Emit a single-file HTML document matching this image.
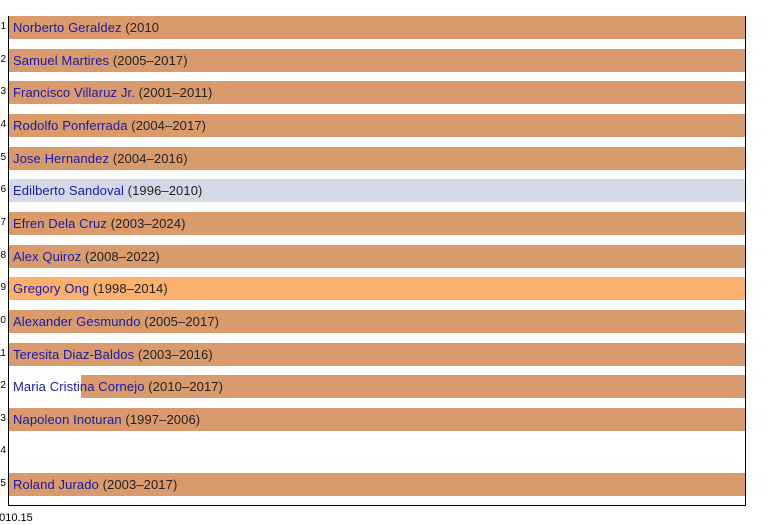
<!DOCTYPE html>
<html><head><meta charset="utf-8"><style>
body{margin:0;width:775px;height:525px;background:#fff;position:relative;overflow:hidden;font-family:"Liberation Sans",sans-serif;font-size:13px;}
.ax{position:absolute;background:#000;}
.bar{position:absolute;height:23px;background:#d99a6c;}
.t{position:absolute;left:13px;line-height:23px;color:#222;white-space:nowrap;letter-spacing:0.1px;}
.t b{font-weight:normal;color:#1a1aa8;}
.tk{position:absolute;left:-30px;width:36px;text-align:right;font-size:10px;color:#000;}
</style></head><body>
<div class="ax" style="left:8px;top:16px;width:1px;height:490px"></div>
<div class="ax" style="left:745px;top:16px;width:1px;height:490px"></div>
<div class="ax" style="left:8px;top:505px;width:738px;height:1px"></div>
<div style="position:absolute;left:-7px;top:512px;font-size:11px">2010.15</div>
<div id="c"></div>
<script>
var rows=[["Norberto Geraldez"," (2010",9,""],["Samuel Martires"," (2005–2017)",9,""],["Francisco Villaruz Jr."," (2001–2011)",9,""],["Rodolfo Ponferrada"," (2004–2017)",9,""],["Jose Hernandez"," (2004–2016)",9,""],["Edilberto Sandoval"," (1996–2010)",9,"#d3dae5"],["Efren Dela Cruz"," (2003–2024)",9,""],["Alex Quiroz"," (2008–2022)",9,""],["Gregory Ong"," (1998–2014)",9,"#fbb06c"],["Alexander Gesmundo"," (2005–2017)",9,""],["Teresita Diaz-Baldos"," (2003–2016)",9,""],["Maria Cristina Cornejo"," (2010–2017)",81,""],["Napoleon Inoturan"," (1997–2006)",9,""],null,["Roland Jurado"," (2003–2017)",9,""]];
var h="";
for(var i=0;i<15;i++){var y=16+i*32.65;
h+='<div class="tk" style="top:'+(y+5)+'px">'+(i+1)+'</div>';
var r=rows[i];if(!r)continue;
h+='<div class="bar" style="left:'+r[2]+'px;width:'+(745-r[2])+'px;top:'+y+'px;'+(r[3]?'background:'+r[3]:'')+'"></div>';
h+='<div class="t" style="top:'+y+'px"><b>'+r[0]+'</b>'+r[1]+'</div>';}
document.getElementById("c").innerHTML=h;
</script>
</body></html>
